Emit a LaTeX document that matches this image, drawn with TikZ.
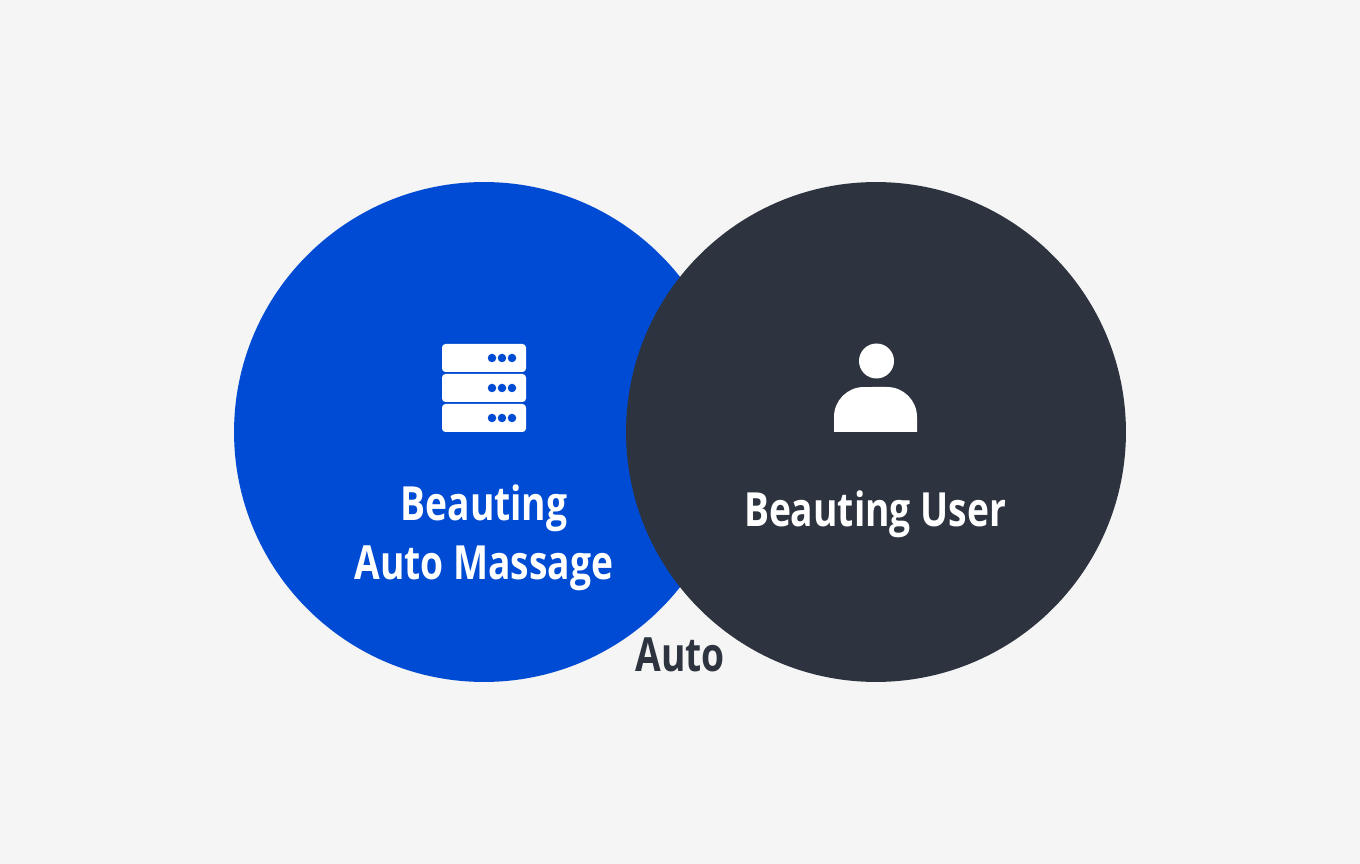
\documentclass[tikz,border=0pt]{standalone}
\usepackage{fontspec}
\setmainfont[FakeStretch=0.79]{Open Sans}
\definecolor{pagebg}{HTML}{F5F5F5}
\definecolor{massblue}{HTML}{004BD3}
\definecolor{userdark}{HTML}{2E343F}
\tikzset{
  disc/.style={circle,minimum size=10cm,inner sep=0pt,outer sep=0pt},
  caption/.style={font=\bfseries\fontsize{26.8}{30}\selectfont,text=white,inner sep=0pt,align=center},
}

\begin{document}
\begin{tikzpicture}[x=.02cm,y=-.02cm]
\fill[pagebg] (0,0) rectangle (1360,864);

\node[disc,fill=massblue] (mass) at (484,432) {};
\node[disc,fill=userdark] (user) at (876,432) {};

\foreach \y in {344,374,404} {
  \fill[white,rounded corners=.07cm] (442,\y) rectangle (526,\y+28);
  \foreach \x in {492,502,512}
    \fill[massblue] (\x,\y+14) circle (.085cm);
}

\fill[white] (876.5,361) circle (.35cm);
\fill[white] (834,432) -- (834,417) arc(180:90:.6cm) -- (887,387) arc(90:0:.6cm) -- (917,432) -- cycle;

\node[caption] (masstop) at (484,508) {Beauting};
\node[caption] (massbot) at (484,568) {Auto Massage};
\node[caption] (userlabel) at (875,514) {Beauting User};
\node[caption,text=userdark] (autolabel) at (680,655) {Auto};
\end{tikzpicture}
\end{document}
